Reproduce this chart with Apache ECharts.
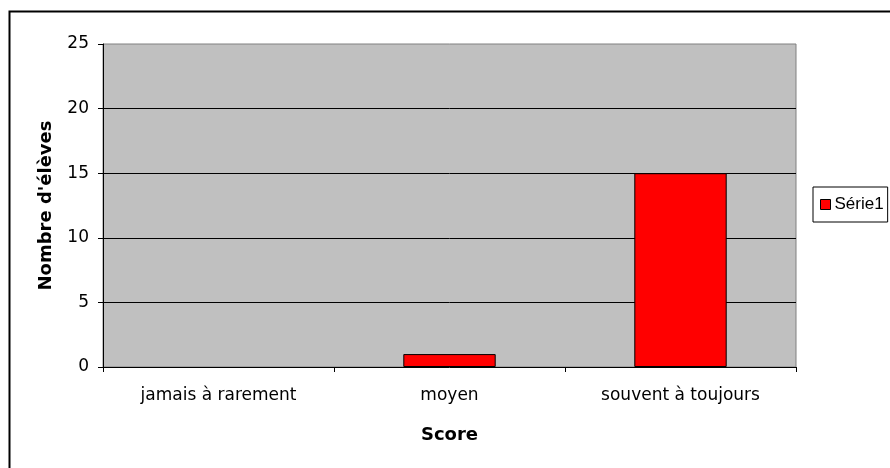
<!DOCTYPE html>
<html>
<head>
<meta charset="utf-8">
<script src="https://cdn.jsdelivr.net/npm/echarts@6/dist/echarts.min.js"></script>
<style>html,body{margin:0;padding:0;background:#fff}#c{width:890px;height:468px}</style>
</head>
<body>
<div id="c"></div>
<script>
const categories = ["jamais à rarement", "moyen", "souvent à toujours"];
const serie1 = [0, 1, 15];
const seriesName = "Série1";
const xTitle = "Score";
const yTitle = "Nombre d'élèves";

const chart = echarts.init(document.getElementById('c'), null, {renderer: 'canvas'});
const font = 'DejaVu Sans';
chart.setOption({
  animation: false,
  backgroundColor: '#fff',
  graphic: [{
    type: 'rect', left: 7, top: 9, z: 100, silent: true,
    shape: {width: 1000, height: 1000},
    style: {fill: 'none', stroke: '#000', lineWidth: 2}
  }],
  grid: {left: 103, right: 94, top: 44, bottom: 101, show: true,
    backgroundColor: '#c0c0c0', borderColor: '#808080', borderWidth: 1},
  legend: {
    left: 813, top: 187, orient: 'vertical',
    padding: [9, 4, 9, 7], itemWidth: 10, itemHeight: 10, itemGap: 0,
    borderColor: '#000', borderWidth: 1, backgroundColor: '#fff',
    icon: 'rect',
    textStyle: {fontFamily: 'Liberation Sans', fontSize: 17, color: '#000', padding: [0, 0, 0, -1]},
    data: [{name: seriesName, itemStyle: {borderColor: '#000', borderWidth: 1}}]
  },
  xAxis: {
    type: 'category', data: categories,
    name: xTitle, nameLocation: 'middle', nameGap: 59,
    nameTextStyle: {fontFamily: font, fontSize: 18, fontWeight: 'bold', color: '#000'},
    axisLine: {lineStyle: {color: '#000', width: 1}},
    axisTick: {show: true, length: 5, lineStyle: {color: '#000'}},
    axisLabel: {fontFamily: font, fontSize: 17, color: '#000', margin: 20}
  },
  yAxis: {
    type: 'value', min: 0, max: 25, interval: 5,
    name: yTitle, nameLocation: 'middle', nameGap: 48,
    nameTextStyle: {fontFamily: font, fontSize: 18, fontWeight: 'bold', color: '#000'},
    axisLine: {show: true, lineStyle: {color: '#000', width: 1}},
    axisTick: {show: true, length: 5, lineStyle: {color: '#000'}},
    axisLabel: {fontFamily: font, fontSize: 17, color: '#000', margin: 14},
    splitLine: {show: true, showMinLine: false, showMaxLine: false, lineStyle: {color: '#000', width: 1}}
  },
  series: [{
    name: seriesName, type: 'bar',
    data: serie1.map(v => v === 0 ? {value: v, itemStyle: {borderWidth: 0}} : v),
    barCategoryGap: '60%',
    itemStyle: {color: '#ff0000', borderColor: '#000', borderWidth: 1}
  }]
});
</script>
</body>
</html>
